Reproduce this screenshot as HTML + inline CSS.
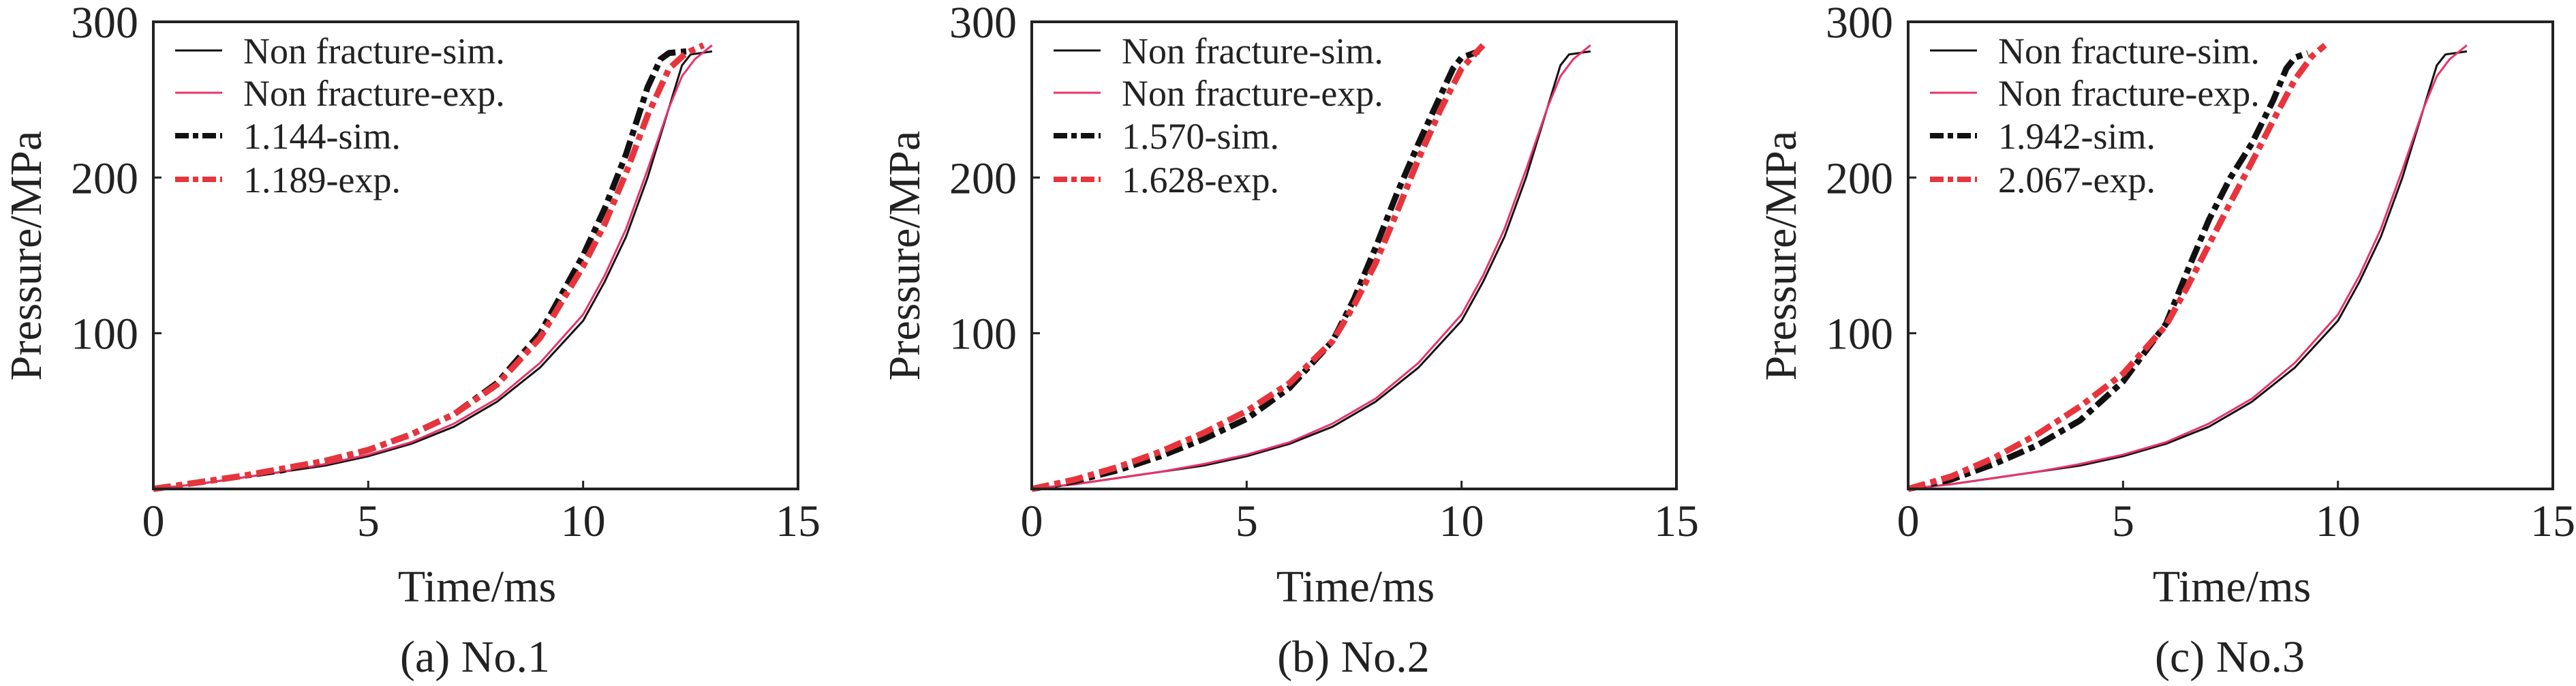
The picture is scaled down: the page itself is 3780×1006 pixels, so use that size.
<!DOCTYPE html>
<html><head><meta charset="utf-8"><style>
html,body{margin:0;padding:0;background:#fff;}
svg{display:block;}
text{font-family:"Liberation Serif","Times New Roman",serif;fill:#222;}
</style></head><body>
<svg id="fig" width="3780" height="1006" viewBox="0 0 3780 1006" xmlns="http://www.w3.org/2000/svg"></svg>
<script>
const panelLabels = ["(a) No.1","(b) No.2","(c) No.3"];
const legendLabelsA = ["Non fracture-sim.","Non fracture-exp.","1.144-sim.","1.189-exp."];
const legendLabelsB = ["Non fracture-sim.","Non fracture-exp.","1.570-sim.","1.628-exp."];
const legendLabelsC = ["Non fracture-sim.","Non fracture-exp.","1.942-sim.","2.067-exp."];
const xTicks = [0,5,10,15];
const yTicks = [100,200,300];
// Non-fracture curves (shared shape)
const nfSimT = [0,1,2,3,4,5,6,7,8,9,10,10.5,11,11.5,12,12.3,12.5,13];
const nfSimP = [0,3,7,11,15,21,29,40,56,78,108,133,162,200,245,272,279,281];
const nfExpT = [0,1,2,3,4,5,6,7,8,9,10,10.5,11,11.5,12,12.3,12.6,13];
const nfExpP = [0,3,7,11,16,22,30,42,58,81,112,137,167,205,245,265,276,285];
// Panel a fractured
const aSimT = [0,1,2,3,4,5,6,7,8,9,10,10.5,11,11.5,11.8,12,12.4];
const aSimP = [0,4,8,12,18,25,35,48,68,100,150,180,215,258,276,280,281];
const aExpT = [0,1,2,3,4,5,6,7,8,9,10,10.5,11,11.5,12,12.4,12.8];
const aExpP = [0,4,8,13,18,25,35,48,67,97,143,170,203,240,270,280,285];
// Panel b fractured
const bSimT = [0,1,2,3,4,5,6,7,7.5,8,8.5,9,9.5,9.8,10,10.4];
const bSimP = [0,5,12,21,32,45,65,95,122,155,190,222,252,270,277,281];
const bExpT = [0,1,2,3,4,5,6,7,7.5,8,8.5,9,9.5,10,10.5];
const bExpP = [0,6,14,24,36,50,68,95,118,145,178,212,243,270,285];
// Panel c fractured
const cSimT = [0,1,2,3,4,5,6,6.5,7,7.5,8,8.5,8.8,9,9.3];
const cSimP = [0,6,16,28,44,69,106,140,173,200,222,250,270,277,280];
const cExpT = [0,1,2,3,4,5,6,6.5,7,7.5,8,8.5,9,9.4,9.7];
const cExpP = [0,8,20,35,53,74,105,130,157,184,210,237,263,278,285];

const NS="http://www.w3.org/2000/svg";
const svg=document.getElementById('fig');
function mk(tag,attrs,parent){const e=document.createElementNS(NS,tag);for(const k in attrs)e.setAttribute(k,attrs[k]);(parent||svg).appendChild(e);return e;}

const panels=[
 {left:225,legend:legendLabelsA,fs:[aSimT,aSimP],fe:[aExpT,aExpP],name:'panel-a'},
 {left:1514,legend:legendLabelsB,fs:[bSimT,bSimP],fe:[bExpT,bExpP],name:'panel-b'},
 {left:2800,legend:legendLabelsC,fs:[cSimT,cSimP],fe:[cExpT,cExpP],name:'panel-c'}
];
const W=946, TOP=32, BOT=717;
const styles=[
 {stroke:'#111',w:3,dash:null},
 {stroke:'#e8336b',w:3,dash:null},
 {stroke:'#111',w:9,dash:'26 8 9 8'},
 {stroke:'#e8343c',w:9,dash:'26 8 9 8'}
];
panels.forEach((p,pi)=>{
 const g=mk('g',{});
 
 
 const L=p.left;
 const xs=t=>L+t/15*W;
 const ys=v=>BOT-v/300*(BOT-TOP);
 const series=[[nfSimT,nfSimP],[nfExpT,nfExpP],p.fs,p.fe];
 const snames=['nonfracture-sim-line','nonfracture-exp-line','fracture-sim-line','fracture-exp-line'];
 series.forEach((s,i)=>{
  const d=s[0].map((t,j)=>(j?'L':'M')+xs(t).toFixed(1)+','+ys(s[1][j]).toFixed(1)).join(' ');
  const a={d:d,fill:'none',stroke:styles[i].stroke,'stroke-width':styles[i].w,'stroke-linejoin':'round'};
  if(styles[i].dash)a['stroke-dasharray']=styles[i].dash;
  const e=mk('path',a,g);
  
  
 });
 const fr=mk('rect',{x:L,y:TOP,width:W,height:BOT-TOP,fill:'none',stroke:'#222','stroke-width':4},g);
 
 
 xTicks.forEach(t=>{
  if(t>0&&t<15) mk('line',{x1:xs(t),x2:xs(t),y1:BOT,y2:BOT-12,stroke:'#222','stroke-width':3},g);
  const tx=mk('text',{x:xs(t),y:786,'font-size':66,'text-anchor':'middle'},g);
  tx.textContent=t;
  
  
 });
 yTicks.forEach(v=>{
  if(v<300) mk('line',{x1:L,x2:L+12,y1:ys(v),y2:ys(v),stroke:'#222','stroke-width':3},g);
  const tx=mk('text',{x:L-22,y:ys(v)+23,'font-size':66,'text-anchor':'end'},g);
  tx.textContent=v;
  
  
 });
 const yt=mk('text',{x:0,y:0,'font-size':66,'text-anchor':'middle',transform:`translate(${L-165},375) rotate(-90)`},g);
 yt.textContent='Pressure/MPa';
 
 
 const xt=mk('text',{x:L+475,y:882,'font-size':66,'text-anchor':'middle'},g);
 xt.textContent='Time/ms';
 
 
 const cp=mk('text',{x:L+472,y:985,'font-size':66,'text-anchor':'middle'},g);
 cp.textContent=panelLabels[pi];
 
 
 const rows=[74,136,199,263];
 p.legend.forEach((lab,i)=>{
  const a={x1:L+32,x2:L+101,y1:rows[i],y2:rows[i],stroke:styles[i].stroke,'stroke-width':styles[i].w==3?3:8};
  if(styles[i].dash)a['stroke-dasharray']='20 6 8 6';
  const ln=mk('line',a,g);
  
  
  const tx=mk('text',{x:L+132,y:rows[i]+19,'font-size':54},g);
  tx.textContent=lab;
  
  
 });
});
</script>
</body></html>
